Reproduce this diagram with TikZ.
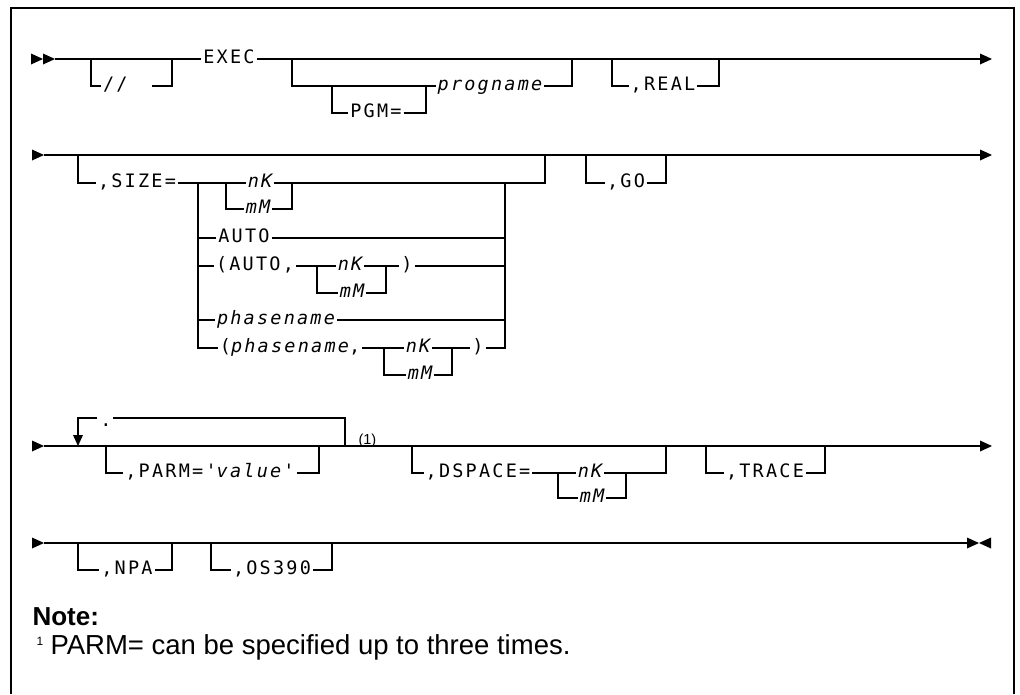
\documentclass[tikz,border=0pt]{standalone}
\usepackage{fontspec}
\setmainfont{Liberation Sans}
\setmonofont[LetterSpace=12]{DejaVu Sans Mono}
\usetikzlibrary{positioning}

\tikzset{
  syn/.style={font=\ttfamily\fontsize{18.5}{18.5}\selectfont, inner sep=0pt, inner xsep=1.5pt, text height=13.5pt, text depth=5pt},
  var/.style={syn, font=\ttfamily\itshape\fontsize{18.5}{18.5}\selectfont},
  fwd/.pic={\fill (-12,-5.5) -- (0,0) -- (-12,5.5) -- cycle;},
  bwd/.pic={\fill (12,-5.5) -- (0,0) -- (12,5.5) -- cycle;},
  dwn/.pic={\fill (-5,-11) -- (0,0) -- (5,-11) -- cycle;}
}

\begin{document}
\begin{tikzpicture}[x=1pt, y=-1pt, line width=1.1pt]
    \useasboundingbox (0,0) rectangle (1020,694);
    \draw[line width=1.3pt] (11,694) -- (11,8) -- (1014,8) -- (1014,694);

    \pic at (43,59) {fwd};
    \pic at (55,59) {fwd};
    \coordinate (a) at (55,59);
    \node[syn] (exec) at (229,59) {EXEC};
    \coordinate (a1) at (980,59);
    \pic at (992,59) {fwd};
    \draw (a) -- (exec.west) (exec.east) -- (a1);

    \coordinate (s1) at (91,59);
    \coordinate [below=27pt of s1] (s1b);
    \node[syn, anchor=west] (sl) at (101,86) {//};
    \coordinate (sl1) at (152,86);
    \coordinate (s2) at (172,59);
    \coordinate [below=27pt of s2] (s2b);
    \draw (s1) -- (s1b) -- (sl.west) (sl1) -- (s2b) -- (s2);

    \coordinate (p1) at (292,59);
    \coordinate [below=27pt of p1] (p1b);
    \coordinate (p2) at (332,86);
    \coordinate [below=27pt of p2] (p2b);
    \node[syn] (pgm) at (376,113) {PGM=};
    \coordinate (p3) at (426,86);
    \coordinate [below=27pt of p3] (p3b);
    \node[var] (prog) at (490,86) {progname};
    \coordinate (p4) at (572,59);
    \coordinate [below=27pt of p4] (p4b);
    \draw (p1) -- (p1b) -- (prog.west) (prog.east) -- (p4b) -- (p4);
    \draw (p2) -- (p2b) -- (pgm.west) (pgm.east) -- (p3b) -- (p3);

    \coordinate (r1) at (612,59);
    \coordinate [below=27pt of r1] (r1b);
    \node[syn] (real) at (663,86) {,REAL};
    \coordinate (r2) at (719,59);
    \coordinate [below=27pt of r2] (r2b);
    \draw (r1) -- (r1b) -- (real.west) (real.east) -- (r2b) -- (r2);

    \pic at (44,155) {fwd};
    \coordinate (b) at (44,155);
    \coordinate (b1) at (980,155);
    \pic at (992,155) {fwd};
    \draw (b) -- (b1);

    \coordinate (t1) at (78,155);
    \coordinate [below=28pt of t1] (t1b);
    \node[syn] (size) at (137,183) {,SIZE=};
    \coordinate (c1) at (198,183);
    \coordinate (c2) at (226,183);
    \node[var] (nka) at (260,183) {nK};
    \coordinate (c3) at (292,183);
    \coordinate (c4) at (505,183);
    \coordinate (t2) at (545,155);
    \coordinate [below=28pt of t2] (t2b);
    \draw (t1) -- (t1b) -- (size.west) (size.east) -- (nka.west) (nka.east) -- (t2b) -- (t2);
    \coordinate [below=26pt of c2] (c2b);
    \node[var] (mma) at (258,209) {mM};
    \coordinate [below=26pt of c3] (c3b);
    \draw (c2) -- (c2b) -- (mma.west) (mma.east) -- (c3b) -- (c3);

    \node[syn] (auto) at (244,238) {AUTO};
    \draw (auto.west -| c1) -- (auto.west) (auto.east) -- (auto.east -| c4);

    \node[syn] (aup) at (255,266) {(AUTO,};
    \node[var] (nkb) at (350,266) {nK};
    \node[syn] (rpa) at (407,266) {)};
    \coordinate (d1) at (317,266);
    \coordinate [below=27pt of d1] (d1b);
    \coordinate (d2) at (386,266);
    \coordinate [below=27pt of d2] (d2b);
    \node[var] (mmb) at (352,293) {mM};
    \draw (aup.west -| c1) -- (aup.west) (aup.east) -- (nkb.west) (nkb.east) -- (rpa.west) (rpa.east) -- (rpa.east -| c4);
    \draw (d1) -- (d1b) -- (mmb.west) (mmb.east) -- (d2b) -- (d2);

    \node[var] (ph) at (276,320) {phasename};
    \draw (ph.west -| c1) -- (ph.west) (ph.east) -- (ph.east -| c4);

    \node[syn] (php) at (290,348) {(\textit{phasename},};
    \node[var] (nkc) at (418,348) {nK};
    \node[syn] (rpb) at (478,348) {)};
    \coordinate (e1) at (384,348);
    \coordinate [below=27pt of e1] (e1b);
    \coordinate (e2) at (452,348);
    \coordinate [below=27pt of e2] (e2b);
    \node[var] (mmc) at (420,375) {mM};
    \coordinate (c1e) at (198,348);
    \coordinate (c4e) at (505,348);
    \draw (c1) -- (c1e) -- (php.west) (php.east) -- (nkc.west) (nkc.east) -- (rpb.west) (rpb.east) -- (c4e) -- (c4);
    \draw (e1) -- (e1b) -- (mmc.west) (mmc.east) -- (e2b) -- (e2);

    \coordinate (g1) at (586,155);
    \coordinate [below=28pt of g1] (g1b);
    \node[syn] (go) at (626,183) {,GO};
    \coordinate (g2) at (666,155);
    \coordinate [below=28pt of g2] (g2b);
    \draw (g1) -- (g1b) -- (go.west) (go.east) -- (g2b) -- (g2);

    \pic at (44,446) {fwd};
    \coordinate (h) at (44,446);
    \coordinate (h1) at (980,446);
    \pic at (992,446) {fwd};
    \draw (h) -- (h1);

    \coordinate (l1) at (345,446);
    \coordinate [above=28pt of l1] (l2);
    \coordinate (l3) at (78,418);
    \coordinate (l4) at (78,435);
    \node[syn] (dot) at (106,422) {.};
    \coordinate (k1) at (97,418);
    \coordinate (k2) at (113,418);
    \draw (l1) -- (l2) -- (k2) (k1) -- (l3) -- (l4);
    \pic at (78,446) {dwn};

    \coordinate (m1) at (106,446);
    \coordinate [below=27pt of m1] (m1b);
    \node[syn] (parm) at (210,473) {,PARM='\textit{value}'};
    \coordinate (m2) at (319,446);
    \coordinate [below=27pt of m2] (m2b);
    \draw (m1) -- (m1b) -- (parm.west) (parm.east) -- (m2b) -- (m2);
    \node[font=\fontsize{14.5}{14.5}\selectfont, inner sep=0pt, anchor=base west] (fn1) at (358,444) {(1)};

    \coordinate (q1) at (412,446);
    \coordinate [below=27pt of q1] (q1b);
    \node[syn] (dsp) at (478,473) {,DSPACE=};
    \coordinate (q2) at (558,473);
    \node[var] (nkd) at (590,473) {nK};
    \coordinate [below=25pt of q2] (q2b);
    \node[var] (mmd) at (592,498) {mM};
    \coordinate (q3) at (626,473);
    \coordinate [below=25pt of q3] (q3b);
    \coordinate (q4) at (666,446);
    \coordinate [below=27pt of q4] (q4b);
    \draw (q1) -- (q1b) -- (dsp.west) (dsp.east) -- (nkd.west) (nkd.east) -- (q4b) -- (q4);
    \draw (q2) -- (q2b) -- (mmd.west) (mmd.east) -- (q3b) -- (q3);

    \coordinate (u1) at (706,446);
    \coordinate [below=27pt of u1] (u1b);
    \node[syn] (trace) at (765,473) {,TRACE};
    \coordinate (u2) at (825,446);
    \coordinate [below=27pt of u2] (u2b);
    \draw (u1) -- (u1b) -- (trace.west) (trace.east) -- (u2b) -- (u2);

    \pic at (44,543) {fwd};
    \coordinate (v) at (44,543);
    \coordinate (v1) at (967,543);
    \pic at (979,543) {fwd};
    \pic at (979,543) {bwd};
    \draw (v) -- (v1);

    \coordinate (w1) at (78,543);
    \coordinate [below=27pt of w1] (w1b);
    \node[syn] (npa) at (127,570) {,NPA};
    \coordinate (w2) at (172,543);
    \coordinate [below=27pt of w2] (w2b);
    \draw (w1) -- (w1b) -- (npa.west) (npa.east) -- (w2b) -- (w2);

    \coordinate (o1) at (211,543);
    \coordinate [below=27pt of o1] (o1b);
    \node[syn] (os) at (272,570) {,OS390};
    \coordinate (o2) at (332,543);
    \coordinate [below=27pt of o2] (o2b);
    \draw (o1) -- (o1b) -- (os.west) (os.east) -- (o2b) -- (o2);

    \node[font=\bfseries\fontsize{26}{26}\selectfont, inner sep=0pt, anchor=base west] (note) at (32,625) {Note:};
    \node[font=\fontsize{12}{12}\selectfont, inner sep=0pt, anchor=base west] (sup) at (36,645) {1};
    \node[font=\fontsize{27.5}{27.5}\selectfont, inner sep=0pt, anchor=base west] (fn) at (50,654) {PARM= can be specified up to three times.};
\end{tikzpicture}
\end{document}
